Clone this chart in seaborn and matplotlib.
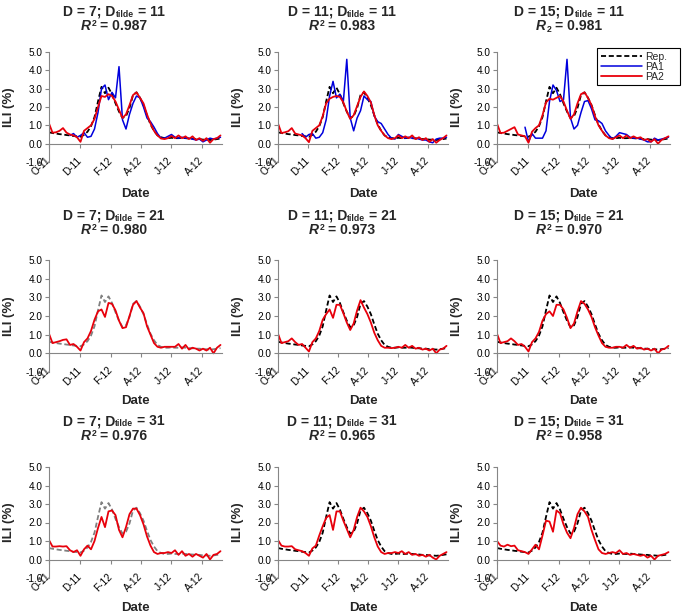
import numpy as np
import pandas as pd
import seaborn as sns
import matplotlib.pyplot as plt
import matplotlib.dates as mdates
from matplotlib.ticker import FormatStrFormatter

nan = np.nan

# weekly sampling, Oct 2011 - Sep 2012
dates = pd.date_range("2011-10-01", periods=50, freq="7D")
tick_dates = pd.to_datetime(["2011-10-01", "2011-12-01", "2012-02-01",
                             "2012-04-01", "2012-06-01", "2012-08-01"])
tick_labels = ["O-11", "D-11", "F-12", "A-12", "J-12", "A-12"]

D_values = [7, 11, 15]
Dtilde_values = [11, 21, 31]
r2_values = [[0.987, 0.983, 0.981],
             [0.980, 0.973, 0.970],
             [0.976, 0.965, 0.958]]

# reported ILI
rep = [0.62, 0.58, 0.55, 0.52, 0.50, 0.47, 0.45, 0.42, 0.40, 0.38,
       0.48, 0.65, 0.95, 1.45, 2.30, 3.10, 2.75, 3.05, 2.70, 2.20,
       1.75, 1.40, 1.50, 1.95, 2.65, 2.80, 2.50, 2.10, 1.55, 1.05,
       0.70, 0.45, 0.35, 0.30, 0.30, 0.32, 0.30, 0.30, 0.32, 0.30,
       0.28, 0.27, 0.25, 0.25, 0.22, 0.22, 0.20, 0.22, 0.25, 0.28]

# PA1 (only in first row)
pa1_d7 = [nan, nan, nan, nan, nan, nan, 0.45, 0.55, 0.35, 0.45,
          0.60, 0.35, 0.40, 0.80, 1.70, 3.00, 3.20, 2.40, 2.80, 2.50,
          4.20, 1.30, 0.80, 1.60, 2.20, 2.60, 2.50, 2.00, 1.40, 1.20,
          0.90, 0.55, 0.30, 0.30, 0.40, 0.50, 0.35, 0.30, 0.35, 0.30,
          0.30, 0.25, 0.20, 0.25, 0.10, 0.20, 0.30, 0.25, 0.30, 0.35]
pa1_d11 = [nan, nan, nan, nan, nan, nan, nan, 0.55, 0.35, 0.50,
           0.55, 0.30, 0.35, 0.60, 1.30, 2.60, 3.40, 2.50, 2.70, 2.30,
           4.60, 1.40, 0.70, 1.40, 1.80, 2.60, 2.40, 2.30, 1.50, 1.20,
           1.10, 0.80, 0.50, 0.30, 0.25, 0.50, 0.40, 0.30, 0.35, 0.30,
           0.30, 0.25, 0.20, 0.20, 0.10, 0.05, 0.25, 0.30, 0.30, 0.35]
pa1_d15 = [nan, nan, nan, nan, nan, nan, nan, nan, 0.90, 0.10,
           0.55, 0.30, 0.30, 0.30, 0.70, 2.30, 3.20, 2.90, 2.30, 2.40,
           4.60, 1.40, 0.80, 1.00, 1.70, 2.30, 2.35, 1.90, 1.30, 1.25,
           1.10, 0.70, 0.45, 0.25, 0.40, 0.60, 0.55, 0.50, 0.35, 0.30,
           0.30, 0.25, 0.20, 0.10, 0.10, 0.30, 0.20, 0.25, 0.30, 0.35]

# PA2, one series per panel
pa2_d7_t11 = [1.10, 0.60, 0.62, 0.70, 0.85, 0.60, 0.50, 0.45, 0.35, 0.10,
              0.70, 0.85, 1.00, 1.35, 2.00, 2.60, 2.55, 2.70, 2.60, 2.30,
              1.85, 1.40, 1.60, 2.10, 2.65, 2.80, 2.50, 2.20, 1.60, 1.10,
              0.70, 0.45, 0.28, 0.25, 0.30, 0.42, 0.30, 0.45, 0.30, 0.40,
              0.25, 0.40, 0.20, 0.30, 0.15, 0.30, 0.05, 0.25, 0.30, 0.45]
pa2_d11_t11 = [1.10, 0.58, 0.62, 0.68, 0.85, 0.55, 0.50, 0.45, 0.30, 0.08,
               0.70, 0.85, 1.00, 1.50, 2.20, 2.45, 2.55, 2.60, 2.55, 2.25,
               1.75, 1.35, 1.55, 2.05, 2.55, 2.85, 2.60, 2.25, 1.55, 1.00,
               0.70, 0.45, 0.30, 0.25, 0.30, 0.45, 0.30, 0.40, 0.30, 0.45,
               0.25, 0.35, 0.20, 0.30, 0.10, 0.25, 0.05, 0.20, 0.30, 0.45]
pa2_d15_t11 = [1.10, 0.58, 0.60, 0.70, 0.80, 0.90, 0.50, 0.45, 0.40, 0.05,
               0.65, 0.85, 1.00, 1.55, 2.25, 2.45, 2.40, 2.50, 2.60, 2.30,
               1.80, 1.35, 1.60, 2.20, 2.70, 2.80, 2.50, 2.10, 1.50, 1.00,
               0.70, 0.45, 0.30, 0.25, 0.35, 0.45, 0.30, 0.45, 0.30, 0.40,
               0.30, 0.35, 0.20, 0.25, 0.10, 0.25, 0.00, 0.20, 0.30, 0.40]
pa2_d7_t21 = [1.05, 0.55, 0.60, 0.65, 0.72, 0.75, 0.45, 0.50, 0.35, 0.15,
              0.60, 0.80, 1.20, 1.80, 2.25, 2.35, 1.95, 2.70, 2.65, 2.30,
              1.75, 1.35, 1.40, 2.00, 2.60, 2.80, 2.45, 2.15, 1.45, 1.00,
              0.55, 0.35, 0.30, 0.35, 0.35, 0.35, 0.35, 0.50, 0.25, 0.45,
              0.20, 0.30, 0.25, 0.15, 0.25, 0.15, 0.30, 0.00, 0.30, 0.45]
pa2_d11_t21 = [1.05, 0.55, 0.60, 0.65, 0.80, 0.60, 0.45, 0.50, 0.30, 0.10,
               0.60, 0.80, 1.20, 1.80, 2.10, 2.35, 1.90, 2.60, 2.60, 2.15,
               1.65, 1.25, 1.60, 2.30, 2.85, 2.45, 2.10, 1.65, 1.10, 0.70,
               0.40, 0.30, 0.30, 0.28, 0.30, 0.35, 0.30, 0.45, 0.30, 0.40,
               0.25, 0.30, 0.20, 0.25, 0.15, 0.25, 0.00, 0.20, 0.25, 0.40]
pa2_d15_t21 = [1.05, 0.55, 0.60, 0.65, 0.80, 0.65, 0.45, 0.50, 0.35, 0.10,
               0.60, 0.80, 1.15, 1.75, 2.10, 2.25, 2.00, 2.60, 2.60, 2.35,
               1.90, 1.35, 1.60, 2.25, 2.80, 2.65, 2.35, 1.95, 1.40, 0.95,
               0.55, 0.35, 0.30, 0.30, 0.35, 0.35, 0.30, 0.45, 0.30, 0.40,
               0.25, 0.30, 0.20, 0.25, 0.15, 0.25, 0.00, 0.20, 0.25, 0.40]
pa2_d7_t31 = [1.05, 0.70, 0.70, 0.72, 0.70, 0.72, 0.50, 0.40, 0.50, 0.20,
              0.55, 0.75, 0.55, 1.00, 1.70, 2.30, 1.75, 2.60, 2.65, 2.40,
              1.60, 1.20, 1.75, 2.45, 2.75, 2.75, 2.40, 1.90, 1.25, 0.75,
              0.40, 0.30, 0.35, 0.35, 0.40, 0.35, 0.50, 0.25, 0.45, 0.20,
              0.30, 0.15, 0.30, 0.20, 0.10, 0.30, 0.00, 0.25, 0.30, 0.45]
pa2_d11_t31 = [1.05, 0.75, 0.70, 0.70, 0.72, 0.55, 0.50, 0.45, 0.35, 0.20,
               0.60, 0.75, 1.30, 1.80, 2.25, 2.40, 1.60, 2.60, 2.60, 2.10,
               1.65, 1.20, 1.60, 2.30, 2.80, 2.60, 2.30, 1.80, 1.20, 0.70,
               0.40, 0.30, 0.35, 0.35, 0.40, 0.35, 0.45, 0.30, 0.40, 0.25,
               0.30, 0.20, 0.25, 0.15, 0.25, 0.10, 0.00, 0.20, 0.30, 0.40]
pa2_d15_t31 = [1.00, 0.75, 0.70, 0.80, 0.72, 0.75, 0.50, 0.45, 0.40, 0.30,
               0.55, 0.80, 0.55, 1.30, 2.10, 2.05, 1.50, 2.65, 2.50, 1.90,
               1.45, 1.15, 1.70, 2.45, 2.80, 2.60, 2.30, 1.60, 1.05, 0.55,
               0.35, 0.30, 0.35, 0.40, 0.35, 0.50, 0.30, 0.35, 0.25, 0.30,
               0.25, 0.20, 0.25, 0.10, 0.20, 0.00, 0.20, 0.25, 0.30, 0.40]

pa1_rows = [[pa1_d7, pa1_d11, pa1_d15], None, None]
pa2_grid = [[pa2_d7_t11, pa2_d11_t11, pa2_d15_t11],
            [pa2_d7_t21, pa2_d11_t21, pa2_d15_t21],
            [pa2_d7_t31, pa2_d11_t31, pa2_d15_t31]]

sns.set_theme(style="ticks")
plt.rcParams['font.family'] = ['Liberation Sans', 'DejaVu Sans']

W, H = 683, 615
fig = plt.figure(figsize=(W / 100, H / 100), dpi=100)
renderer = fig.canvas.get_renderer()

# panel placement in pixels
lefts = [49, 278, 497]
rights = [222, 448, 670]
tops = [52, 260, 467]
bottoms = [162, 372, 578]
centers = [114, 342, 569]
title1_base = [16, 220, 425]
title2_base = [30, 234, 440]
date_top = [188, 395, 602]

axis_grey = '#868686'
x_end = pd.Timestamp("2012-09-11")
title_size = 10
space_px = 3.9


def rich_line(xc, base_y, parts):
    # parts: (text, size factor, baseline shift in px (down +), style, gap after in px)
    items = []
    for s, scale, dy, style, gap in parts:
        t = fig.text(0, 0, s, fontsize=title_size * scale, fontweight='bold',
                     fontstyle=style, ha='left', va='baseline')
        items.append((t, dy, gap, t.get_window_extent(renderer).width))
    total = sum(w + g for _, _, g, w in items)
    x = xc - total / 2
    for t, dy, gap, w in items:
        t.set_position((x / W, 1 - (base_y + dy) / H))
        x += w + gap


for r in range(3):
    for c in range(3):
        w_px = rights[c] - lefts[c]
        h_px = bottoms[r] - tops[r]
        ax = fig.add_axes([lefts[c] / W, 1 - bottoms[r] / H, w_px / W, h_px / H])

        rep_color = 'grey' if (c == 0 and r > 0) else 'black'
        sns.lineplot(x=dates, y=rep, ax=ax, color=rep_color, lw=1.3,
                     linestyle=(0, (2.8, 1.5)), label='Rep.')
        if pa1_rows[r] is not None:
            sns.lineplot(x=dates, y=pa1_rows[r][c], ax=ax, color='#0000dd',
                         lw=1.1, label='PA1')
        sns.lineplot(x=dates, y=pa2_grid[r][c], ax=ax, color='#e8000b',
                     lw=1.3, label='PA2')

        # horizontal axis crosses at 0 (spine moved before tick styling)
        sns.despine(ax=ax)
        ax.spines['bottom'].set_position(('data', 0))
        for s in ['left', 'bottom']:
            ax.spines[s].set_color(axis_grey)
            ax.spines[s].set_linewidth(0.8)

        ax.set_ylim(-1, 5)
        ax.set_yticks(np.arange(-1, 6))
        ax.yaxis.set_major_formatter(FormatStrFormatter('%.1f'))
        ax.set_xlim(mdates.date2num(dates[0]), mdates.date2num(x_end))
        ax.set_xticks(mdates.date2num(tick_dates))
        ax.set_xticklabels(tick_labels)
        ax.tick_params(axis='both', length=3, width=0.8, color=axis_grey,
                       labelsize=7.2, pad=1.5, labelcolor='black')
        ax.tick_params(axis='x', pad=8, labelrotation=45)
        for lab in ax.get_xticklabels():
            lab.set_ha('right')
            lab.set_va('center')
            lab.set_rotation_mode('anchor')

        ax.set_ylabel('ILI (%)', fontsize=9.5, fontweight='bold')
        ax.yaxis.set_label_coords(-34 / w_px, 0.5)
        ax.set_xlabel('Date', fontsize=9.5, fontweight='bold')
        ax.xaxis.set_label_coords(0.5, -(date_top[r] - bottoms[r]) / h_px)

        if r == 0 and c == 2:
            ax.legend(loc='upper left',
                      bbox_to_anchor=(597 / W, 1 - 87 / H, 83 / W, 39 / H),
                      bbox_transform=fig.transFigure, mode='expand',
                      frameon=True, fancybox=False, edgecolor='black',
                      framealpha=1, fontsize=7.5, handlelength=4.0,
                      labelspacing=0.0, borderpad=0.35, handletextpad=0.3,
                      borderaxespad=0)
            ax.get_legend().get_frame().set_linewidth(0.8)
        else:
            ax.get_legend().remove()

        # panel titles: "D = x; D_tilde = y" and "R^2 = value"
        rich_line(centers[c], title1_base[r],
                  [(f"D = {D_values[c]}; D", 1.0, 0, 'normal', 0),
                   ("tilde", 0.62, 1.0, 'normal', space_px),
                   (f"= {Dtilde_values[r]}", 1.0, 0, 'normal', 0)])
        if r == 0 and c == 2:
            r_idx = ("2", 0.62, 2.5, 'normal', space_px)
        else:
            r_idx = ("2", 0.62, -4.5, 'normal', space_px)
        rich_line(centers[c], title2_base[r],
                  [("R", 1.0, 0, 'italic', 0.5), r_idx,
                   (f"= {r2_values[r][c]:.3f}", 1.0, 0, 'normal', 0)])

plt.savefig('out.png', dpi=100)
